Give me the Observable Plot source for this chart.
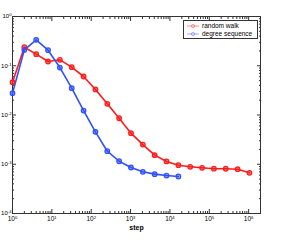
<!DOCTYPE html>
<html><head><meta charset="utf-8">
<script src="https://cdn.jsdelivr.net/npm/d3@7"></script>
<script src="https://cdn.jsdelivr.net/npm/@observablehq/plot@0.6"></script>
<style>
body{margin:0;background:#fff}
#wrap{position:relative;width:291px;height:240px;font-family:"Liberation Sans",Arial,sans-serif}
#legend{position:absolute;left:183px;top:20px;width:75px;height:19px;border:1px solid #333;background:#fff;box-sizing:border-box;font-size:6.5px;color:#000}
.row{position:absolute;left:0;height:8px;line-height:8px;white-space:nowrap}
.row svg{position:absolute;left:2px;top:0}
.row span{position:absolute;left:18px;top:0}
</style>
</head><body><div id="wrap"><div id="legend"></div></div>
<script>
const seriesNames = ["random walk", "degree sequence"];
const seriesColors = ["#ff1a1a", "#2f50ff"];
const stepsRandomWalk = [1,2,4,8,16,32,64,128,256,512,1024,2048,4096,8192,16384,32768,65536,131072,262144,524288,1048576];
const randomWalk = [0.0464,0.238,0.172,0.122,0.132,0.0935,0.0605,0.033,0.0169,0.0086,0.00427,0.00251,0.00153,0.00114,0.000957,0.000887,0.000847,0.000812,0.00081,0.000794,0.00067];
const stepsDegree = [1,2,4,8,16,32,64,128,256,512,1024,2048,4096,8192,16384];
const degreeSequence = [0.0277,0.21,0.336,0.207,0.092,0.035,0.0123,0.00455,0.00184,0.00115,0.00086,0.000702,0.00063,0.00059,0.000564];
const xMajorTicks = [1,10,100,1000,10000,100000,1000000];
const yMajorTicks = [0.0001,0.001,0.01,0.1,1];
const xLabel = "step";

const xDomain = [1, 2e6];
const yDomain = [1e-4, 1];
const xMinor = [];
for (let d = 0; d <= 6; d++) for (let m = 2; m <= 9; m++) { const v = m * 10 ** d; if (v <= xDomain[1]) xMinor.push(v); }
const yMinor = [];
for (let d = -4; d <= -1; d++) for (let m = 2; m <= 9; m++) yMinor.push(m * 10 ** d);

const fmt = v => "10^" + Math.round(Math.log10(v));
const blank = () => "";

const data = [];
stepsRandomWalk.forEach((s, i) => data.push({step: s, p: randomWalk[i], series: seriesNames[0]}));
stepsDegree.forEach((s, i) => data.push({step: s, p: degreeSequence[i], series: seriesNames[1]}));

const tickOpts = {tickFormat: blank, label: null, stroke: "#333"};
const chart = Plot.plot({
  width: 291, height: 240,
  marginLeft: 12, marginRight: 31, marginTop: 16, marginBottom: 27,
  style: {fontFamily: '"Liberation Sans", Arial, sans-serif', fontSize: "6.5px", background: "#fff", overflow: "visible"},
  x: {type: "log", domain: xDomain},
  y: {type: "log", domain: yDomain},
  color: {domain: seriesNames, range: seriesColors},
  marks: [
    Plot.axisX(xMajorTicks, {anchor: "bottom", tickSize: 0, tickPadding: 3, tickFormat: fmt, label: null, fontSize: 6.5}),
    Plot.axisY(yMajorTicks, {anchor: "left", tickSize: 0, tickPadding: 1, tickFormat: fmt, label: null, fontSize: 6}),
    Plot.axisX(xMajorTicks, {anchor: "bottom", tickSize: -4, ...tickOpts}),
    Plot.axisX(xMinor, {anchor: "bottom", tickSize: -2, ...tickOpts}),
    Plot.axisX(xMajorTicks, {anchor: "top", tickSize: -4, ...tickOpts}),
    Plot.axisX(xMinor, {anchor: "top", tickSize: -2, ...tickOpts}),
    Plot.axisY(yMajorTicks, {anchor: "left", tickSize: -4, ...tickOpts}),
    Plot.axisY(yMinor, {anchor: "left", tickSize: -2, ...tickOpts}),
    Plot.axisY(yMajorTicks, {anchor: "right", tickSize: -4, ...tickOpts}),
    Plot.axisY(yMinor, {anchor: "right", tickSize: -2, ...tickOpts}),
    Plot.frame({stroke: "#333"}),
    Plot.line(data, {x: "step", y: "p", z: "series", stroke: "series", strokeWidth: 1.6}),
    Plot.dot(data, {x: "step", y: "p", stroke: "series", fill: "series", fillOpacity: 0.55, r: 2.3, strokeWidth: 1.2}),
    Plot.text([xLabel], {frameAnchor: "bottom", dy: 16, fontWeight: "bold", fontSize: 7})
  ]
});
// render "10^n" tick labels with a real superscript
chart.querySelectorAll("text").forEach(t => {
  const s = t.textContent;
  const m = /^10\^(-?\d+)$/.exec(s);
  if (!m) return;
  t.textContent = "";
  const ns = "http://www.w3.org/2000/svg";
  const a = document.createElementNS(ns, "tspan"); a.textContent = "10";
  const b = document.createElementNS(ns, "tspan"); b.textContent = m[1];
  b.setAttribute("dy", "-0.5em"); b.setAttribute("font-size", "4.2px");
  t.appendChild(a); t.appendChild(b);
});
document.getElementById("wrap").prepend(chart);

const legend = document.getElementById("legend");
seriesNames.forEach((name, i) => {
  const row = document.createElement("div");
  row.className = "row";
  row.style.top = (i === 0 ? 1 : 9) + "px";
  const c = seriesColors[i];
  row.innerHTML = `<svg width="14" height="8"><line x1="1" y1="4" x2="13" y2="4" stroke="${c}" stroke-width="0.8" opacity="0.6"/><circle cx="7" cy="4" r="1.6" fill="none" stroke="${c}" stroke-width="0.6" opacity="0.7"/></svg><span>${name}</span>`;
  legend.appendChild(row);
});
</script>
</body></html>
